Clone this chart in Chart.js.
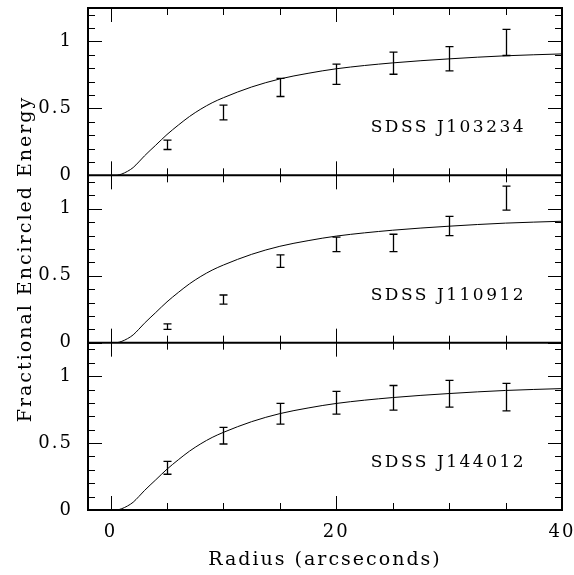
<!DOCTYPE html>
<html lang="en">
<head>
  <meta charset="UTF-8" />
  <script src="https://cdn.jsdelivr.net/npm/chart.js"></script>
  <title>Fractional encircled energy</title>
  <style>
    body { margin: 0; background: #fff; }
    canvas { display: block; }
  </style>
</head>
<body>
  <canvas id="grafico" width="574" height="575"></canvas>
  <script>
    // radii of the measured points (arcsec)
    const radios = [5, 10, 15, 20, 25, 30, 35];
    // measured encircled energy and half error bars, one pair per object
    const j103234 = [0.228, 0.469, 0.657, 0.755, 0.838, 0.871, 0.993];
    const j103234Err = [0.035, 0.055, 0.068, 0.075, 0.083, 0.091, 0.098];
    const j110912 = [0.120, 0.322, 0.609, 0.734, 0.745, 0.872, 1.080];
    const j110912Err = [0.020, 0.034, 0.047, 0.054, 0.065, 0.072, 0.090];
    const j144012 = [0.315, 0.555, 0.719, 0.801, 0.838, 0.869, 0.843];
    const j144012Err = [0.048, 0.062, 0.077, 0.085, 0.092, 0.100, 0.103];
    // model curve (PSF)
    const modeloR = [0.6, 1, 1.5, 2, 2.5, 3, 4, 5, 6, 7, 8, 9, 10, 12.5, 15, 17.5, 20, 25, 30, 35, 40];
    const modeloF = [0, 0.01, 0.03, 0.058, 0.1, 0.145, 0.225, 0.305, 0.375, 0.44, 0.495, 0.542, 0.58, 0.66, 0.72, 0.762, 0.796, 0.84, 0.87, 0.893, 0.907];
    const nombres = ['SDSS J103234', 'SDSS J110912', 'SDSS J144012'];
    // tick marks and the ones that carry a label
    const xMarcas = [0, 5, 10, 15, 20, 25, 30, 35, 40];
    const xEtiquetas = [0, 20, 40];
    const yMarcas = [0, 0.1, 0.2, 0.3, 0.4, 0.5, 0.6, 0.7, 0.8, 0.9, 1, 1.1, 1.2];
    const yEtiquetas = [0, 0.5, 1];

    const fuente = '"DejaVu Serif", "Liberation Serif", serif';
    const ejes = ['yA', 'yB', 'yC'];
    const medidas = [[j103234, j103234Err], [j110912, j110912Err], [j144012, j144012Err]];

    const cerca = (a, b) => Math.abs(a - b) < 1e-6;

    function sinRelleno(s) {
      s.paddingTop = 0; s.paddingBottom = 0; s.paddingLeft = 0; s.paddingRight = 0;
    }

    function escalaPanel(conTitulo) {
      return {
        type: 'linear',
        position: 'left',
        stack: 'paneles',
        stackWeight: 1,
        min: 0,
        max: 1.25,
        grid: { display: false, drawTicks: false },
        border: { display: false },
        afterBuildTicks: s => { s.ticks = yMarcas.map(v => ({ value: v })); },
        ticks: {
          autoSkip: false,
          padding: 15,
          color: '#000',
          font: { family: fuente, size: 18 },
          callback: v => yEtiquetas.some(e => cerca(e, v)) ? String(v) : ''
        },
        title: {
          display: conTitulo,
          text: 'Fractional Encircled Energy',
          color: '#000',
          font: { family: fuente, size: 19 },
          padding: { top: 15, bottom: 0 }
        },
        afterFit: s => { s.width = 88; sinRelleno(s); }
      };
    }

    const datasets = [];
    ejes.forEach((eje, k) => {
      datasets.push({
        type: 'line',
        data: modeloR.map((r, i) => ({ x: r, y: modeloF[i] })),
        yAxisID: eje,
        borderColor: '#000',
        borderWidth: 1,
        pointRadius: 0,
        cubicInterpolationMode: 'monotone',
        fill: false
      });
      datasets.push({
        type: 'scatter',
        data: radios.map((r, i) => ({ x: r, y: medidas[k][0][i] })),
        errores: medidas[k][1],
        yAxisID: eje,
        pointRadius: 0
      });
    });

    // marco, separadores y marcas de los ejes hacia dentro
    const marco = {
      id: 'marco',
      beforeUpdate(chart) { chart.ctx.letterSpacing = '2px'; },
      beforeDraw(chart) { chart.ctx.letterSpacing = '2px'; },
      afterDatasetsDraw(chart) {
        const ctx = chart.ctx;
        const a = chart.chartArea;
        const xs = chart.scales.x;
        ctx.save();
        ctx.strokeStyle = '#000';
        ctx.lineCap = 'butt';

        // barras de error
        ctx.lineWidth = 1.3;
        chart.data.datasets.forEach(ds => {
          if (!ds.errores) return;
          const ys = chart.scales[ds.yAxisID];
          ds.data.forEach((p, i) => {
            const px = Math.round(xs.getPixelForValue(p.x)) + 0.5;
            const y1 = ys.getPixelForValue(p.y - ds.errores[i]);
            const y2 = ys.getPixelForValue(p.y + ds.errores[i]);
            ctx.beginPath();
            ctx.moveTo(px, y1); ctx.lineTo(px, y2);
            ctx.moveTo(px - 4, y1); ctx.lineTo(px + 4, y1);
            ctx.moveTo(px - 4, y2); ctx.lineTo(px + 4, y2);
            ctx.stroke();
          });
        });

        // marcas
        ctx.lineWidth = 1;
        ejes.forEach(eje => {
          const ys = chart.scales[eje];
          ys.ticks.forEach(t => {
            const v = t.value;
            const largo = yEtiquetas.some(e => cerca(e, v)) ? 14 : 7;
            const py = Math.round(ys.getPixelForValue(v)) + 0.5;
            ctx.beginPath();
            ctx.moveTo(a.left, py); ctx.lineTo(a.left + largo, py);
            ctx.moveTo(a.right, py); ctx.lineTo(a.right - largo, py);
            ctx.stroke();
          });
          xs.ticks.forEach(t => {
            const v = t.value;
            const largo = xEtiquetas.includes(v) ? 14 : 7;
            const px = Math.round(xs.getPixelForValue(v)) + 0.5;
            ctx.beginPath();
            ctx.moveTo(px, ys.top); ctx.lineTo(px, ys.top + largo);
            ctx.moveTo(px, ys.bottom); ctx.lineTo(px, ys.bottom - largo);
            ctx.stroke();
          });
        });

        // marco y separadores
        ctx.lineWidth = 2;
        ctx.strokeRect(a.left, a.top, a.right - a.left, a.bottom - a.top);
        ejes.forEach(eje => {
          const ys = chart.scales[eje];
          ctx.beginPath();
          ctx.moveTo(a.left, ys.bottom); ctx.lineTo(a.right, ys.bottom);
          ctx.stroke();
        });

        // nombres
        ctx.fillStyle = '#000';
        ctx.font = '17px ' + fuente;
        ctx.letterSpacing = '2.5px';
        ctx.textAlign = 'left';
        ctx.textBaseline = 'middle';
        ejes.forEach((eje, k) => {
          const ys = chart.scales[eje];
          ctx.fillText(nombres[k], xs.getPixelForValue(23.05), ys.getPixelForValue(0.355));
        });
        ctx.restore();
      }
    };

    new Chart(document.getElementById('grafico').getContext('2d'), {
      type: 'scatter',
      data: { datasets },
      plugins: [marco],
      options: {
        responsive: false,
        animation: false,
        layout: { padding: { left: 0, top: 8, right: 12, bottom: 0 } },
        plugins: { legend: { display: false }, tooltip: { enabled: false } },
        scales: {
          x: {
            type: 'linear',
            position: 'bottom',
            min: -2,
            max: 40,
            grid: { display: false, drawTicks: false },
            border: { display: false },
            afterBuildTicks: s => { s.ticks = xMarcas.map(v => ({ value: v })); },
            ticks: {
              autoSkip: false,
              maxRotation: 0,
              padding: 12,
              color: '#000',
              font: { family: fuente, size: 18 },
              callback: v => xEtiquetas.includes(v) ? String(v) : ''
            },
            title: {
              display: true,
              text: 'Radius (arcseconds)',
              color: '#000',
              font: { family: fuente, size: 19 },
              padding: { top: 0, bottom: 4 }
            },
            afterFit: s => { s.height = 65; sinRelleno(s); }
          },
          // the first axis of the stack is drawn at the bottom
          yC: escalaPanel(false),
          yB: escalaPanel(true),
          yA: escalaPanel(false)
        }
      }
    });
  </script>
</body>
</html>
